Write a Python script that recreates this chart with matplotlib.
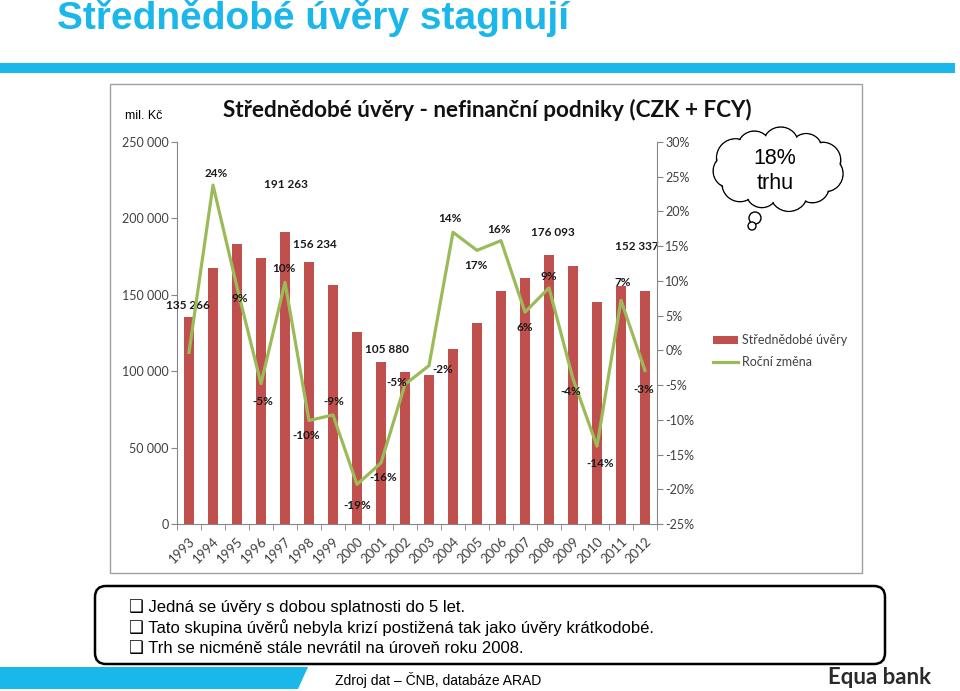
import numpy as np
import matplotlib
matplotlib.use("Agg")
import matplotlib.pyplot as plt
from matplotlib.patches import Rectangle, Circle, Ellipse, FancyBboxPatch, Polygon

# ---- data ----
years = [str(y) for y in range(1993, 2013)]
loans = [135266, 167700, 183000, 174300, 191263, 171700, 156234, 125800, 105880, 99700,
         97500, 114700, 131300, 152500, 161200, 176093, 168800, 145500, 155800, 152337]
change = [-0.3, 23.8, 9.1, -4.8, 9.8, -10.1, -9.3, -19.3, -16.2, -4.9,
          -2.2, 17.0, 14.4, 15.8, 5.5, 9.0, -4.1, -13.8, 7.2, -2.9]
# percent labels exactly as printed on the slide (2004/2005 are swapped there)
change_labels = ["", "24%", "9%", "-5%", "10%", "-10%", "-9%", "-19%", "-16%", "-5%",
                 "-2%", "14%", "17%", "16%", "6%", "9%", "-4%", "-14%", "7%", "-3%"]
loan_label_idx = [0, 4, 6, 8, 15, 19]
bullets = [
    "Jedná se úvěry s dobou splatnosti do 5 let.",
    "Tato skupina úvěrů nebyla krizí postižená tak jako úvěry krátkodobé.",
    "Trh se nicméně stále nevrátil na úroveň roku 2008.",
]

# label offsets in pixels (dx, dy), dy positive = up
loan_off = [(-1, 12), (1, 47), (-18, 41), (6, 13), (4, 22), (-8, 45)]
chg_off = [(0, 0), (3, 12), (3, -11), (2, -18), (-1, 14), (-3, -15), (1, 13), (0, -21),
           (2, -15), (-8, 2), (14, -4), (-3, 14), (-1, -15), (-2, 11), (0, -15), (0, 11),
           (-2, -13), (3, -17), (2, 18), (-1, -19)]

BLUE = "#1AB7EA"
RED = "#C0504D"
GREEN = "#9BBB59"
AXC = "#868686"
TXT = "#404040"
CF = "Lato"

fig = plt.figure(figsize=(9.6, 6.91), dpi=100)

# ---- slide background (pixel coordinates) ----
bg = fig.add_axes([0, 0, 1, 1])
bg.set_xlim(0, 960)
bg.set_ylim(691, 0)
bg.axis("off")
bg.set_zorder(0)

bg.text(57, 18, "Střednědobé úvěry stagnují", color=BLUE, fontsize=28, fontweight="bold",
        family="Liberation Sans", ha="left", va="center")
bg.add_patch(Rectangle((0, 63), 955, 10, color=BLUE, lw=0))
bg.add_patch(Rectangle((110, 84), 752, 489, fill=False, ec="#a0a0a0", lw=1))
bg.text(125, 116, "mil. Kč", fontsize=9, family="Liberation Sans", ha="left", va="center")
bg.text(487, 110, "Střednědobé úvěry - nefinanční podniky (CZK + FCY)", fontsize=16.2,
        fontweight="bold", family=CF, ha="center", va="center", color="#111111")

# thought cloud
cx, cy = 778, 169
angles = np.linspace(0, 2 * np.pi, 11, endpoint=False) + 0.2
radii = [18, 17, 19, 16, 18, 17, 19, 17, 18, 16, 18]
for a, r in zip(angles, radii):
    bg.add_patch(Circle((cx + 48 * np.cos(a), cy + 24 * np.sin(a)), r, fill=False,
                        ec="black", lw=1, zorder=3))
for a, r in zip(angles, radii):
    bg.add_patch(Circle((cx + 48 * np.cos(a), cy + 24 * np.sin(a)), r - 0.9,
                        fc="white", ec="none", zorder=4))
bg.add_patch(Ellipse((cx, cy), 100, 52, fc="white", ec="none", zorder=4))
bg.add_patch(Circle((755, 218), 6, fc="white", ec="black", lw=1, zorder=4))
bg.add_patch(Circle((752, 226), 4, fc="white", ec="black", lw=1, zorder=4))
bg.text(775, 171, "18%\ntrhu", fontsize=15.5, family="Liberation Sans", ha="center",
        va="center", linespacing=1.25, zorder=5)

# text box with bullets
bg.add_patch(FancyBboxPatch((95, 586), 790, 78, boxstyle="round,pad=0,rounding_size=11",
                            fc="white", ec="black", lw=1.8))
for i, b in enumerate(bullets):
    bg.text(129, 607 + 20.5 * i, "❑ " + b, fontsize=12,
            family=["Liberation Sans", "DejaVu Sans"], ha="left", va="center")

# footer
bg.add_patch(Polygon([(0, 667), (308, 667), (298, 689), (0, 689)], color=BLUE, lw=0))
bg.text(335, 680, "Zdroj dat – ČNB, databáze ARAD", fontsize=10, family="Liberation Sans",
        ha="left", va="center")
bg.text(879, 678, "Equa bank", fontsize=16, family="Lato", fontweight="bold",
        color="#2a2a2a", ha="center", va="center")

# ---- chart ----
x = np.arange(len(years))
ax = fig.add_axes([177 / 960, 1 - 524 / 691, 480 / 960, 382 / 691])
ax.set_zorder(2)
ax.patch.set_alpha(0)
bars = ax.bar(x, loans, width=0.38, color=RED, zorder=2, label="Střednědobé úvěry")
ax.set_xlim(-0.5, len(years) - 0.5)
ax.set_ylim(0, 250000)
ax.set_yticks(range(0, 250001, 50000))
ax.set_yticklabels([f"{v:,}".replace(",", " ") for v in range(0, 250001, 50000)])
ax.set_xticks(x)
ax.set_xticklabels(years, rotation=45, ha="right", va="top", rotation_mode="anchor")
ax.set_xticks(np.arange(-0.5, len(years), 1), minor=True)
ax.tick_params(axis="y", length=4, color=AXC, labelsize=9, labelcolor=TXT, pad=2)
ax.tick_params(axis="x", which="major", length=0, pad=8, labelsize=9.5, labelcolor=TXT)
ax.tick_params(axis="x", which="minor", length=4, color=AXC)
for lab in ax.get_xticklabels() + ax.get_yticklabels():
    lab.set_family(CF)
for s in ["top", "right"]:
    ax.spines[s].set_visible(False)
for s in ["left", "bottom"]:
    ax.spines[s].set_color(AXC)

for k, i in enumerate(loan_label_idx):
    ax.annotate(f"{loans[i]:,}".replace(",", " "), (i, loans[i]), xytext=loan_off[k],
                textcoords="offset pixels", ha="center", va="center", fontsize=8.5,
                fontweight="bold", family=CF, color="#1a1a1a", zorder=5)

ax2 = ax.twinx()
ax2.set_zorder(3)
ax2.patch.set_alpha(0)
line, = ax2.plot(x, change, color=GREEN, lw=2.3, label="Roční změna")
ax2.set_ylim(-25, 30)
ax2.set_yticks(range(-25, 31, 5))
ax2.set_yticklabels([f"{v}%" for v in range(-25, 31, 5)])
ax2.tick_params(axis="y", length=4, color=AXC, labelsize=9, labelcolor=TXT, pad=2)
for lab in ax2.get_yticklabels():
    lab.set_family(CF)
for s in ["top", "left", "bottom"]:
    ax2.spines[s].set_visible(False)
ax2.spines["right"].set_color(AXC)

for i, t in enumerate(change_labels):
    if t:
        ax2.annotate(t, (i, change[i]), xytext=chg_off[i], textcoords="offset pixels",
                     ha="center", va="center", fontsize=8.5, fontweight="bold",
                     family=CF, color="#1a1a1a")

fig.legend([bars, line], ["Střednědobé úvěry", "Roční změna"], loc="upper left",
           bbox_to_anchor=(702 / 960, 1 - 323 / 691), frameon=False,
           prop={"family": CF, "size": 9}, handlelength=2.0, handletextpad=0.3,
           labelspacing=0.8, labelcolor=TXT)

fig.savefig("out.png", dpi=100)
